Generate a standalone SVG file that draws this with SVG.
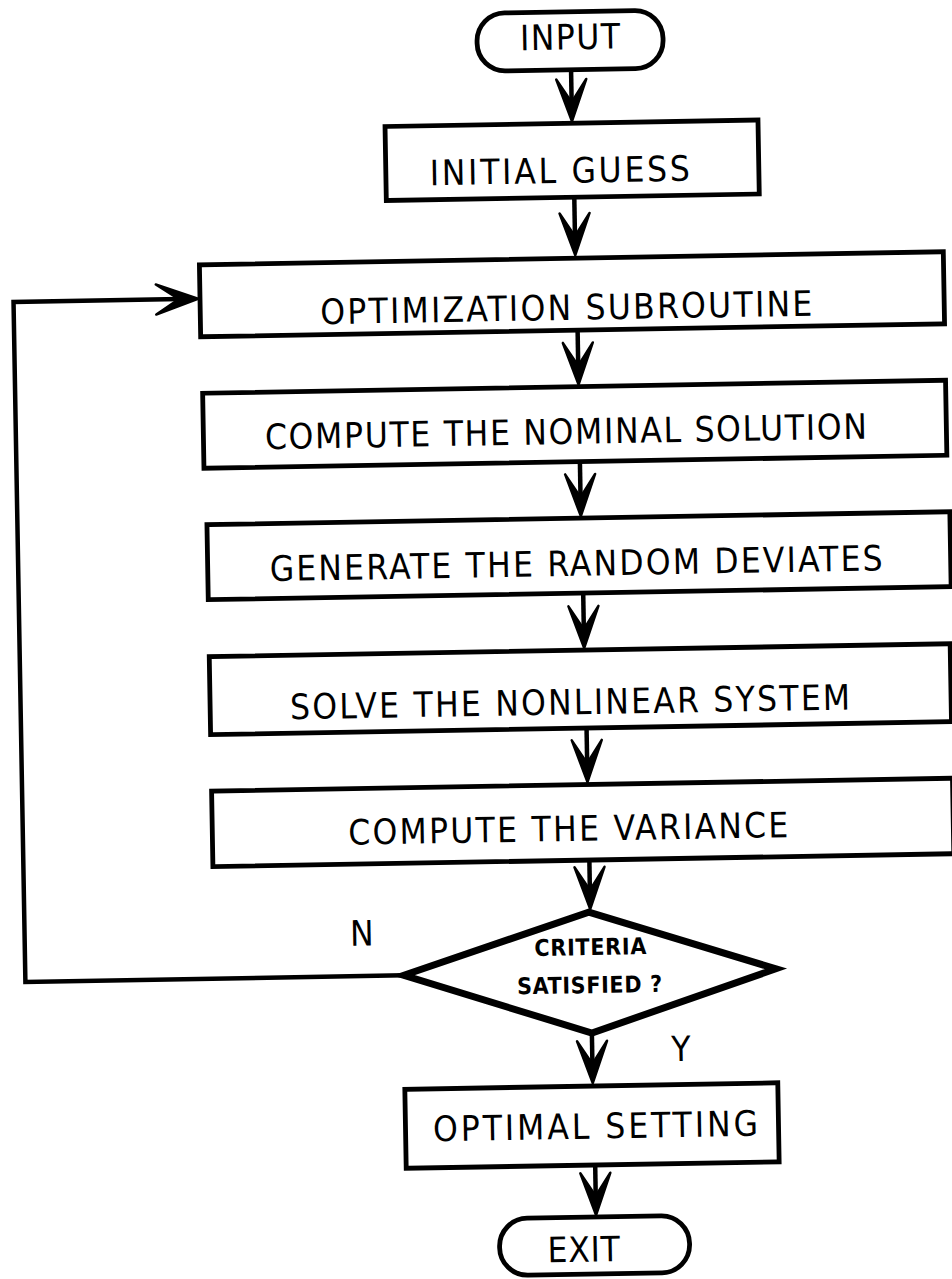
<svg xmlns="http://www.w3.org/2000/svg" width="952" height="1279" viewBox="0 0 952 1279">
  <style>
    .box { fill: #fff; stroke: #000; stroke-width: 4.8; }
    .term { fill: #fff; stroke: #000; stroke-width: 4.8; }
    .dec { fill: #fff; stroke: #000; stroke-width: 7; stroke-linejoin: miter; }
    .conn { fill: none; stroke: #000; stroke-width: 4.5; }
    .lbl { font-family: "DejaVu Sans Condensed", "DejaVu Sans", sans-serif; font-size: 35px; fill: #000; }
    .small { font-family: "DejaVu Sans Condensed", "DejaVu Sans", sans-serif; font-size: 23px; font-weight: bold; fill: #000; }
  </style>
  <defs>
    <marker id="arrow" viewBox="-46 -18 48 36" refX="-18" refY="0" markerWidth="48" markerHeight="36" markerUnits="userSpaceOnUse" orient="auto">
      <path d="M0,0 L-42,-15 L-19,0 L-42,15 Z" fill="#000" stroke="#000" stroke-width="2.5" stroke-linejoin="round"/>
    </marker>
  </defs>
  <rect width="952" height="1279" fill="#fff"/>

  <!-- whole chart is drawn slightly tilted -->
  <g transform="rotate(-1 476 640)">
    <g id="connectors">
      <path class="conn" d="M581,72 V105" marker-end="url(#arrow)"/>
      <path class="conn" d="M582,199 V239" marker-end="url(#arrow)"/>
      <path class="conn" d="M583,332 V368.5" marker-end="url(#arrow)"/>
      <path class="conn" d="M583,463.5 V500" marker-end="url(#arrow)"/>
      <path class="conn" d="M584,595 V632" marker-end="url(#arrow)"/>
      <path class="conn" d="M585,730 V766" marker-end="url(#arrow)"/>
      <path class="conn" d="M585.5,862 V893" marker-end="url(#arrow)"/>
      <path class="conn" d="M585,1035 V1067" marker-end="url(#arrow)"/>
      <path class="conn" d="M586,1167 V1199" marker-end="url(#arrow)"/>
      <!-- "N" branch loops back to the optimization step -->
      <path class="conn" d="M398,974 H19.5 V294 H186" marker-end="url(#arrow)"/>
    </g>

    <g id="input">
      <rect class="term" x="487.5" y="13.5" width="186" height="58" rx="28" ry="28"/>
      <text class="lbl" x="530.5" y="51" font-size="30" textLength="100" lengthAdjust="spacing">INPUT</text>
    </g>

    <g id="initial-guess">
      <rect class="box" x="394" y="125" width="373" height="74"/>
      <text class="lbl" x="438" y="184.5" font-size="36" textLength="260" lengthAdjust="spacing">INITIAL GUESS</text>
    </g>

    <g id="optimization">
      <rect class="box" x="206" y="260" width="744" height="72"/>
      <text class="lbl" x="326" y="321.5" textLength="492" lengthAdjust="spacing">OPTIMIZATION SUBROUTINE</text>
    </g>

    <g id="nominal">
      <rect class="box" x="207" y="388.5" width="743" height="75"/>
      <text class="lbl" x="268.5" y="445.5" textLength="602" lengthAdjust="spacing">COMPUTE THE NOMINAL SOLUTION</text>
    </g>

    <g id="deviates">
      <rect class="box" x="209" y="520" width="743" height="75"/>
      <text class="lbl" x="271" y="577.5" textLength="613" lengthAdjust="spacing">GENERATE THE RANDOM DEVIATES</text>
    </g>

    <g id="nonlinear">
      <rect class="box" x="209" y="652" width="741" height="78"/>
      <text class="lbl" x="289" y="716" textLength="560" lengthAdjust="spacing">SOLVE THE NONLINEAR SYSTEM</text>
    </g>

    <g id="variance">
      <rect class="box" x="209" y="786.5" width="741" height="75.5"/>
      <text class="lbl" x="345" y="842.5" textLength="440" lengthAdjust="spacing">COMPUTE THE VARIANCE</text>
    </g>

    <g id="criteria">
      <polygon class="dec" points="584,914 770,974 585,1035 398,974"/>
      <text class="small" x="529" y="957" textLength="112" lengthAdjust="spacing">CRITERIA</text>
      <text class="small" x="511" y="995" font-size="24" textLength="145" lengthAdjust="spacing">SATISFIED ?</text>
    </g>

    <g id="branch-labels">
      <text class="lbl" x="345" y="943.5" font-size="34">N</text>
      <text class="lbl" x="664" y="1064.5" font-size="34">Y</text>
    </g>

    <g id="optimal">
      <rect class="box" x="397" y="1088" width="373" height="79"/>
      <text class="lbl" x="424.5" y="1140.5" textLength="325" lengthAdjust="spacing">OPTIMAL SETTING</text>
    </g>

    <g id="exit">
      <rect class="term" x="489" y="1219" width="190" height="57" rx="28" ry="28"/>
      <text class="lbl" x="537" y="1263.5" font-size="37" textLength="72" lengthAdjust="spacing">EXIT</text>
    </g>
  </g>
</svg>
